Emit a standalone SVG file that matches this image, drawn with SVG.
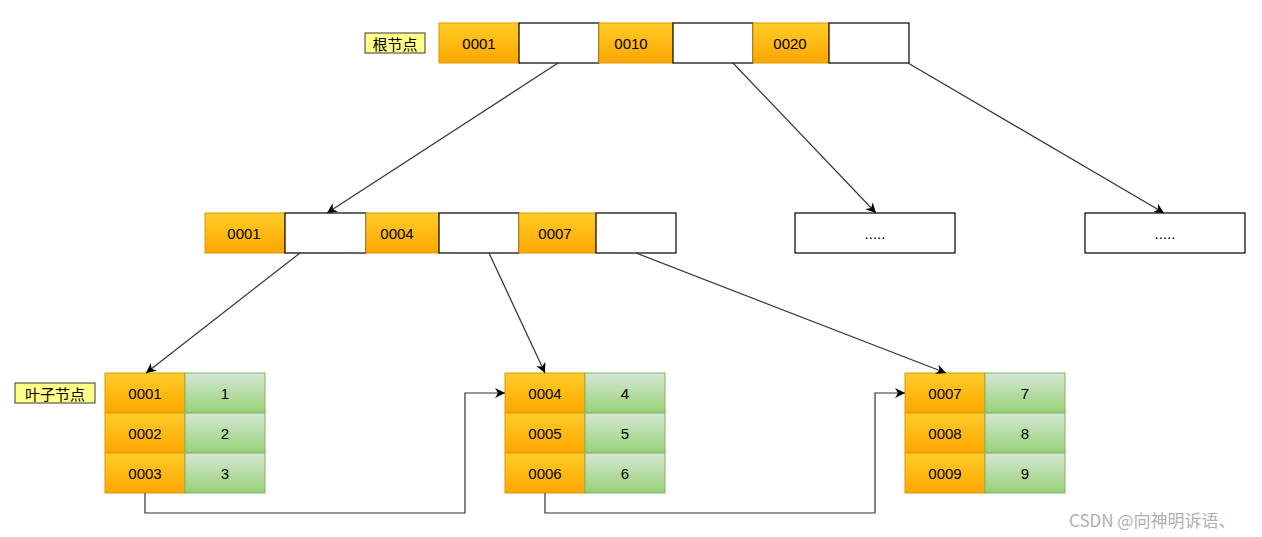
<svg xmlns="http://www.w3.org/2000/svg" width="1262" height="537" viewBox="0 0 1262 537">
<defs>
<linearGradient id="og" x1="0" y1="0" x2="0" y2="1"><stop offset="0" stop-color="#ffcd28"/><stop offset="1" stop-color="#ffa500"/></linearGradient>
<linearGradient id="gg" x1="0" y1="0" x2="0" y2="1"><stop offset="0" stop-color="#d5e8d4"/><stop offset="1" stop-color="#97d077"/></linearGradient>
<marker id="ah" viewBox="0 0 10 10" refX="10" refY="5" markerWidth="10" markerHeight="10" markerUnits="userSpaceOnUse" orient="auto"><path d="M0,0 L10,5 L0,10 L3,5 Z" fill="#000"/></marker>
</defs>
<style>
.o{fill:url(#og);stroke:#d79b00;stroke-width:1}
.w{fill:#fff;stroke:#000;stroke-width:1.2}
.g{fill:url(#gg);stroke:#82b366;stroke-width:1}
.lb{fill:#ffff88;stroke:#36393d;stroke-width:1}
.t{font-family:"Liberation Sans",Arial,sans-serif;font-size:15px;fill:#000;text-anchor:middle;dominant-baseline:central}
.c{font-family:"Noto Sans CJK SC",sans-serif;font-size:15px;fill:#000;text-anchor:middle;dominant-baseline:central}
.e{fill:none;stroke:#333;stroke-width:1.2;marker-end:url(#ah)}
</style>
<rect width="1262" height="537" fill="#fff"/>
<g id="root-label"><rect class="lb" x="365" y="33" width="60" height="20"/><text class="c" x="395" y="43">根节点</text></g>
<g id="root">
<rect class="o" x="439" y="23" width="80" height="40"/><text class="t" x="479" y="43">0001</text>
<rect class="w" x="519" y="23" width="80" height="40"/>
<rect class="o" x="599" y="23" width="74" height="40"/><text class="t" x="631" y="43">0010</text>
<rect class="w" x="673" y="23" width="80" height="40"/>
<rect class="o" x="753" y="23" width="76" height="40"/><text class="t" x="790" y="43">0020</text>
<rect class="w" x="829" y="23" width="80" height="40"/>
</g>
<g id="mid">
<rect class="o" x="205" y="213" width="80" height="40"/><text class="t" x="244" y="233">0001</text>
<rect class="w" x="285" y="213" width="81" height="40"/>
<rect class="o" x="366" y="213" width="73" height="40"/><text class="t" x="397" y="233">0004</text>
<rect class="w" x="439" y="213" width="80" height="40"/>
<rect class="o" x="519" y="213" width="77" height="40"/><text class="t" x="555" y="233">0007</text>
<rect class="w" x="596" y="213" width="80" height="40"/>
</g>
<g id="dots1"><rect class="w" x="795" y="213" width="160" height="40"/><text class="t" x="875" y="233">.....</text></g>
<g id="dots2"><rect class="w" x="1085" y="213" width="160" height="40"/><text class="t" x="1165" y="233">.....</text></g>
<g id="leaf-label"><rect class="lb" x="15" y="383" width="80" height="20"/><text class="c" x="55" y="393">叶子节点</text></g>
<g id="leaf1">
<rect class="o" x="105" y="373" width="80" height="40"/><text class="t" x="145" y="393">0001</text>
<rect class="g" x="185" y="373" width="80" height="40"/><text class="t" x="225" y="393">1</text>
<rect class="o" x="105" y="413" width="80" height="40"/><text class="t" x="145" y="433">0002</text>
<rect class="g" x="185" y="413" width="80" height="40"/><text class="t" x="225" y="433">2</text>
<rect class="o" x="105" y="453" width="80" height="40"/><text class="t" x="145" y="473">0003</text>
<rect class="g" x="185" y="453" width="80" height="40"/><text class="t" x="225" y="473">3</text>
</g>
<g id="leaf2">
<rect class="o" x="505" y="373" width="80" height="40"/><text class="t" x="545" y="393">0004</text>
<rect class="g" x="585" y="373" width="80" height="40"/><text class="t" x="625" y="393">4</text>
<rect class="o" x="505" y="413" width="80" height="40"/><text class="t" x="545" y="433">0005</text>
<rect class="g" x="585" y="413" width="80" height="40"/><text class="t" x="625" y="433">5</text>
<rect class="o" x="505" y="453" width="80" height="40"/><text class="t" x="545" y="473">0006</text>
<rect class="g" x="585" y="453" width="80" height="40"/><text class="t" x="625" y="473">6</text>
</g>
<g id="leaf3">
<rect class="o" x="905" y="373" width="80" height="40"/><text class="t" x="945" y="393">0007</text>
<rect class="g" x="985" y="373" width="80" height="40"/><text class="t" x="1025" y="393">7</text>
<rect class="o" x="905" y="413" width="80" height="40"/><text class="t" x="945" y="433">0008</text>
<rect class="g" x="985" y="413" width="80" height="40"/><text class="t" x="1025" y="433">8</text>
<rect class="o" x="905" y="453" width="80" height="40"/><text class="t" x="945" y="473">0009</text>
<rect class="g" x="985" y="453" width="80" height="40"/><text class="t" x="1025" y="473">9</text>
</g>
<g id="connectors">
<path class="e" d="M558,63 L327,213"/>
<path class="e" d="M733,63 L876,213"/>
<path class="e" d="M908,63 L1164,213"/>
<path class="e" d="M300,253 L146,373"/>
<path class="e" d="M489,253 L545,373"/>
<path class="e" d="M636,253 L946,373"/>
<path class="e" d="M145,493 L145,513 L465,513 L465,393 L505,393"/>
<path class="e" d="M545,493 L545,513 L875,513 L875,393 L905,393"/>
</g>
<text x="1069" y="519" style="font-family:'Noto Sans CJK SC',sans-serif;font-size:17px;fill:#b0b0b0;dominant-baseline:central">CSDN @向神明诉语、</text>
</svg>
